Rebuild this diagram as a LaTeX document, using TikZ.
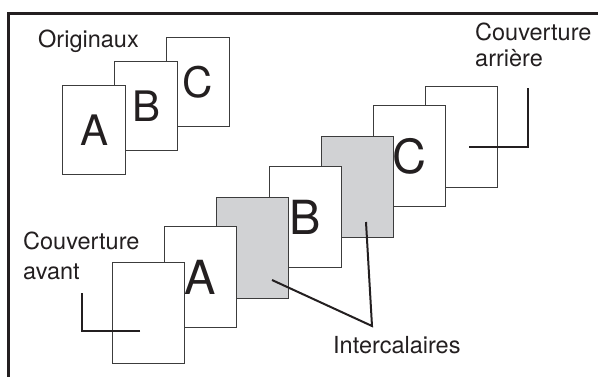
\documentclass[tikz,border=0pt]{standalone}
\usepackage{fontspec}
\setmainfont{TeX Gyre Heros}
\usetikzlibrary{calc}
\definecolor{ink}{RGB}{35,31,32}
\definecolor{edge}{RGB}{60,60,60}
\definecolor{sepgray}{RGB}{209,210,212}
\tikzset{
 orig/.style={draw=edge, line width=1.1pt, fill=white, minimum width=63pt, minimum height=89pt, inner sep=0pt, anchor=north west, font=\fontsize{42}{42}\selectfont, text=ink},
 sheet/.style={orig, minimum width=72pt, minimum height=101pt, font=\fontsize{47}{47}\selectfont},
 insertsheet/.style={sheet, fill=sepgray},
 lbl/.style={inner sep=0pt, text=ink, font=\fontsize{23.5}{26}\selectfont, align=left},
 leader/.style={draw=ink, line width=2pt},
}
\begin{document}
\begin{tikzpicture}[x=1pt,y=-1pt]
\useasboundingbox (0,0) rectangle (598,376);
% frame
\draw[line width=2.5pt, draw=ink] (8.5,380) -- (8.5,13.5) -- (600,13.5);
% originals
\node[orig] (oc) at (166,37) {C};
\node[orig] (ob) at (114,61) {B};
\node[orig] (oa) at (62,85) {A};
\node[lbl, anchor=base west] (orig) at (38,47) {Originaux};
% stack, back to front
\node[sheet] (bc) at (425,86) {};
\node[sheet] (sc) at (373,105) {C};
\node[insertsheet] (g2) at (321,136) {};
\node[sheet] (sb) at (269,166) {B};
\node[insertsheet] (g1) at (216,197) {};
\node[sheet] (sa) at (164,226) {A};
\node[sheet] (fc) at (112,262) {};
% labels
\node[lbl, anchor=north west] (backlbl) at (475,23) {Couverture\\arrière};
\node[lbl, anchor=north west, font=\fontsize{23.5}{29.5}\selectfont] (frontlbl) at (23,232) {Couverture\\avant};
\node[lbl, anchor=base west] (inter) at (333,353) {Intercalaires};
% leader lines
\coordinate (bcpt) at ($(bc.north west)+(44,61)$);
\coordinate (bcend) at (528,88);
\draw[leader] (bcpt) -- (bcpt -| bcend) -- (bcend);
\coordinate (fcpt) at ($(fc.north west)+(28,69)$);
\coordinate (fcend) at (82,293);
\draw[leader] (fcpt) -- (fcpt -| fcend) -- (fcend);
\coordinate (apex) at (372,326);
\coordinate (g1pt) at ($(g1.north west)+(56,83)$);
\coordinate (g2pt) at ($(g2.north west)+(45,86)$);
\draw[leader] (g1pt) -- (apex) -- (g2pt);
\end{tikzpicture}
\end{document}
